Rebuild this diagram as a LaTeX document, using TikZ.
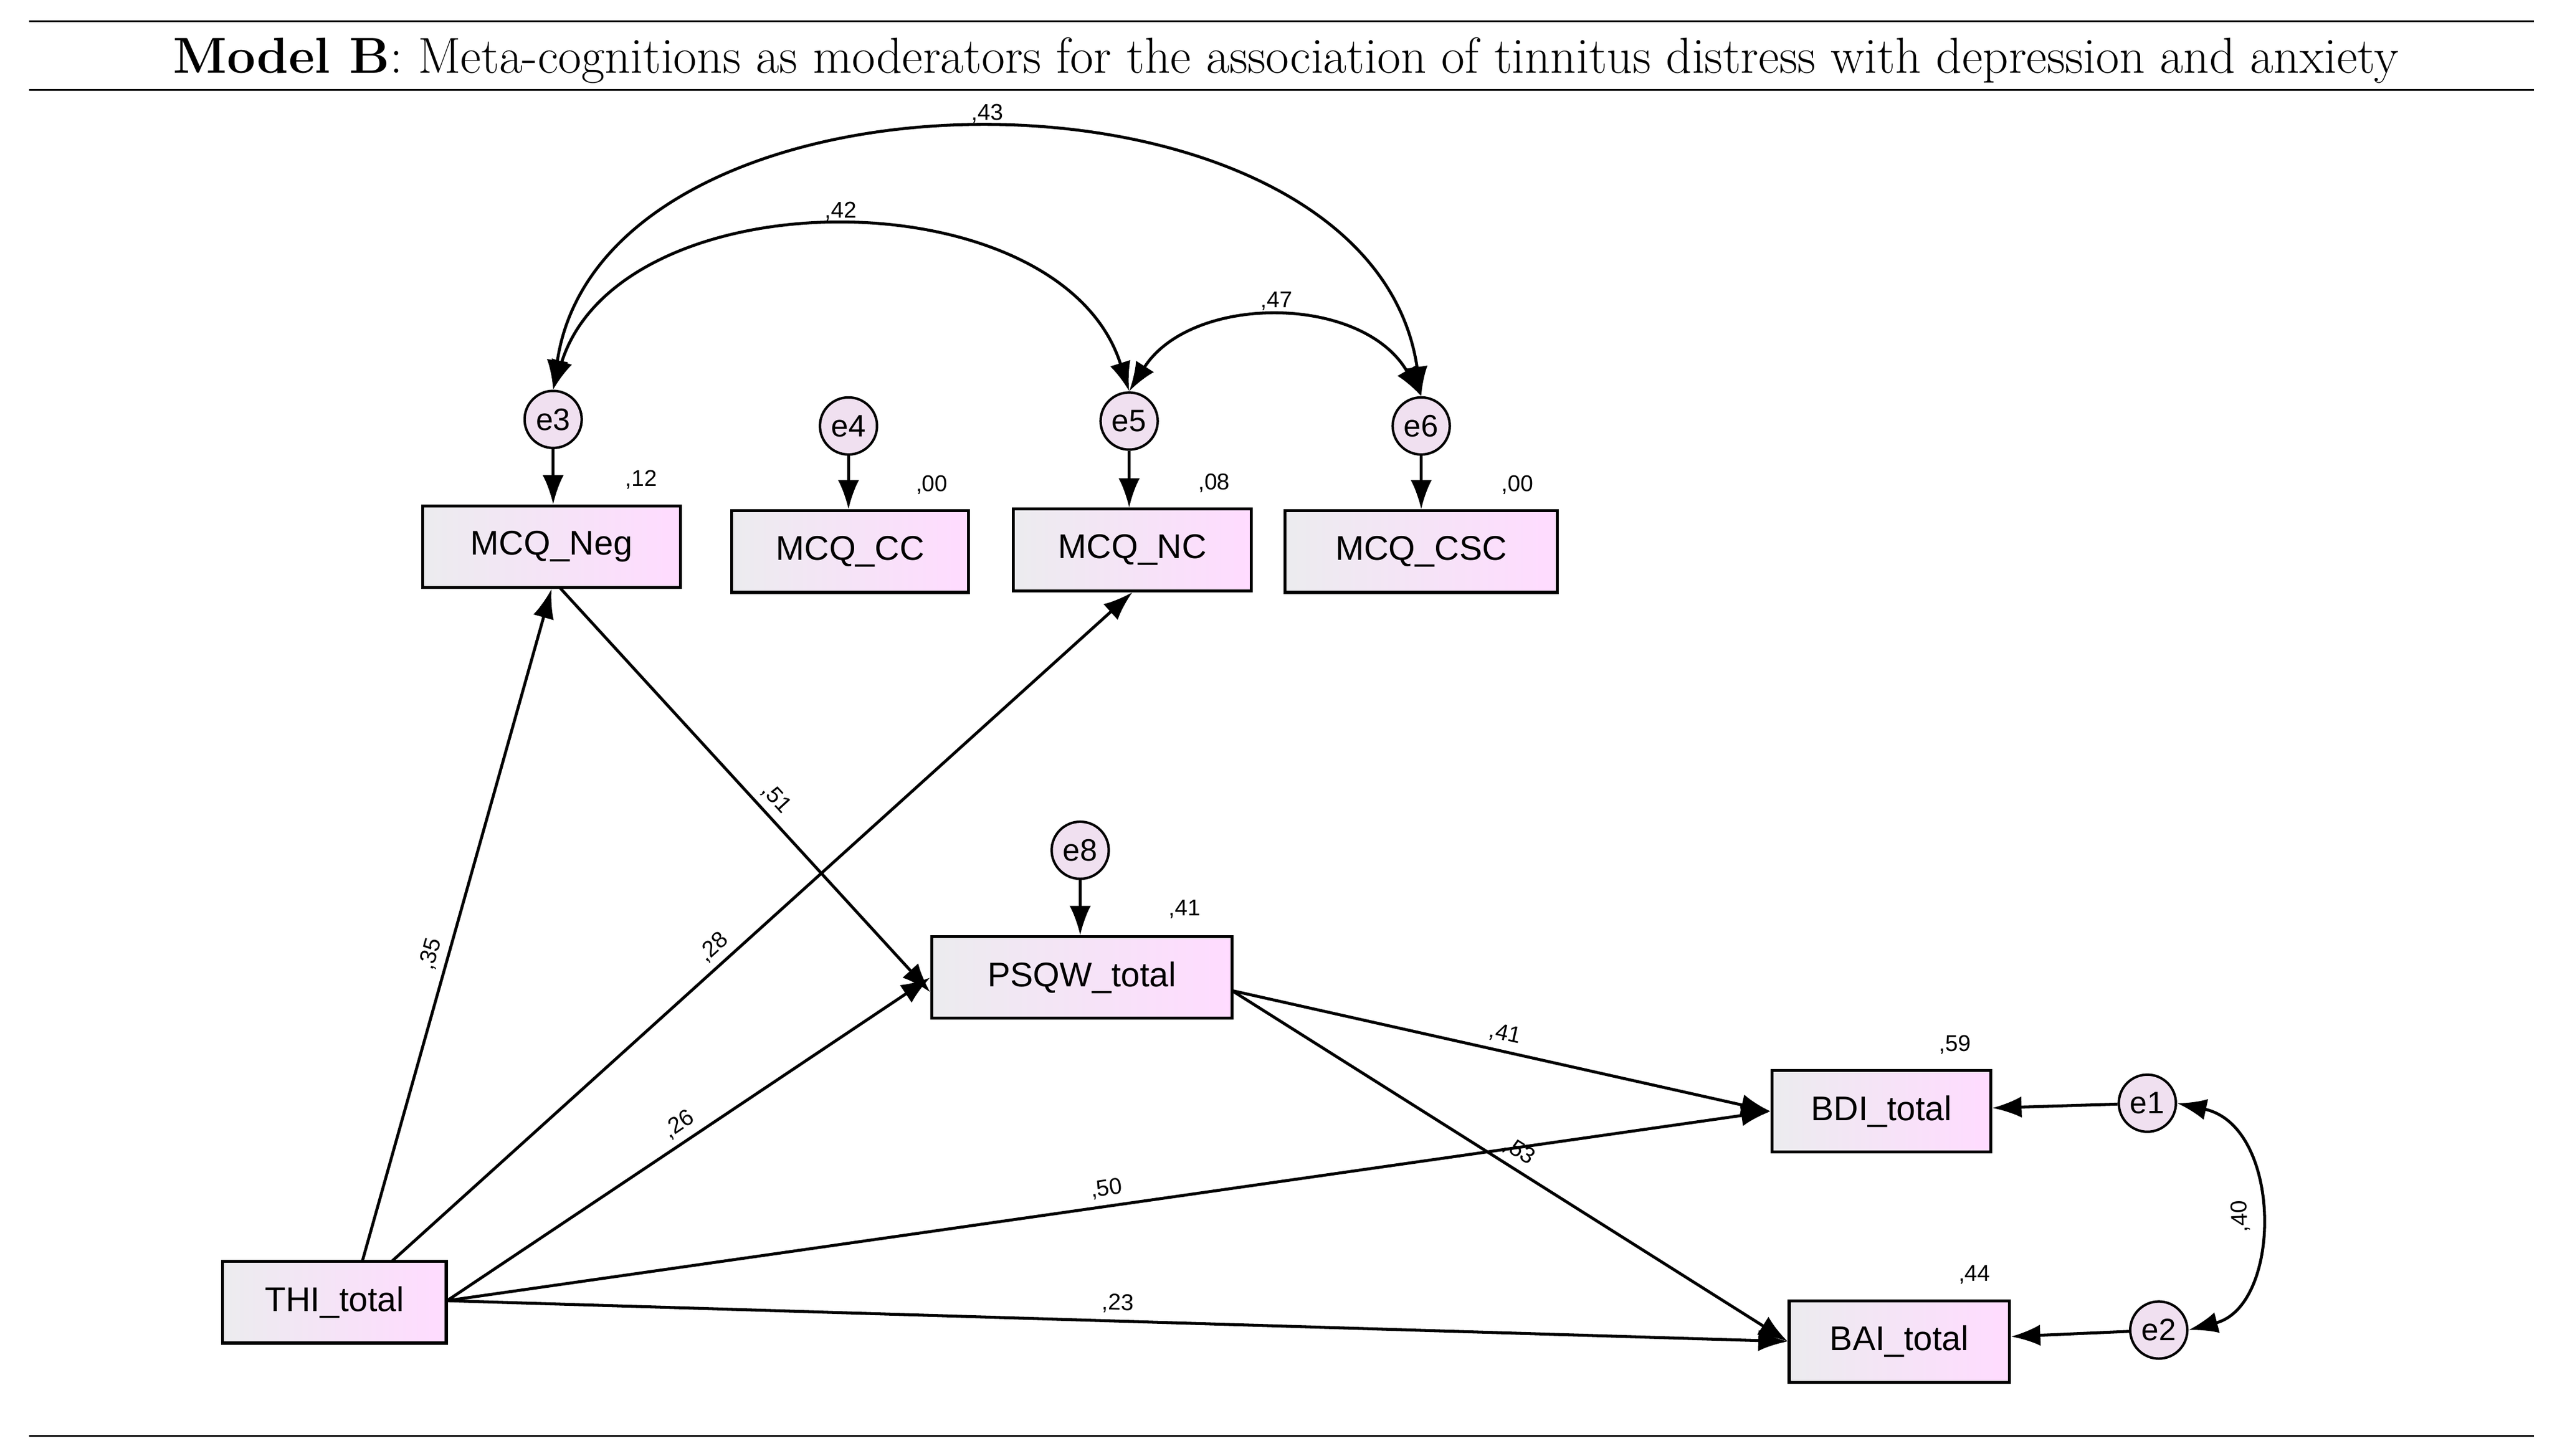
\documentclass[tikz,border=0pt]{standalone}
\usepackage{fontspec}
\setmainfont{Liberation Sans}
\newfontfamily\titlefont{Latin Modern Roman}
\usetikzlibrary{arrows.meta}
\begin{document}
\begin{tikzpicture}[x=1pt,y=-1pt,
 box/.style={draw,line width=1.8pt,left color=blue!8!gray!14,right color=magenta!14!white,minimum height=50pt,inner sep=0pt,font=\fontsize{21}{21}\selectfont},
 err/.style={circle,draw,line width=1.5pt,fill=violet!12,minimum size=35pt,inner sep=0pt,font=\fontsize{19}{19}\selectfont},
 lab/.style={font=\fontsize{14}{14}\selectfont,inner sep=4pt},
 arr/.style={line width=1.8pt,-{Latex[length=18pt,width=13pt]}},
 darr/.style={line width=1.8pt,{Latex[length=18pt,width=13pt]}-{Latex[length=18pt,width=13pt]}}]
\useasboundingbox[fill=white] (0,0) rectangle (1564,892);
\draw[line width=1pt] (18,13) -- (1553,13) (18,55) -- (1553,55) (18,880) -- (1553,880);
\node[font=\titlefont\fontsize{31}{31}\selectfont] (title) at (788,37) {\textbf{Model B}: Meta-cognitions as moderators for the association of tinnitus distress with depression and anxiety};
% boxes
\node[box,minimum width=158pt] (neg) at (338,335) {MCQ\_Neg};
\node[box,minimum width=145pt] (cc) at (521,338) {MCQ\_CC};
\node[box,minimum width=146pt] (nc) at (694,337) {MCQ\_NC};
\node[box,minimum width=167pt] (csc) at (871,338) {MCQ\_CSC};
\node[box,minimum width=184pt] (psqw) at (663,599) {PSQW\_total};
\node[box,minimum width=134pt] (bdi) at (1153,681) {BDI\_total};
\node[box,minimum width=135pt] (bai) at (1164,822) {BAI\_total};
\node[box,minimum width=137pt] (thi) at (205,798) {THI\_total};
% errors
\node[err] (e3) at (339,257) {e3};
\node[err] (e4) at (520,261) {e4};
\node[err] (e5) at (692,258) {e5};
\node[err] (e6) at (871,261) {e6};
\node[err] (e8) at (662,521) {e8};
\node[err] (e1) at (1316,676) {e1};
\node[err] (e2) at (1323,815) {e2};
% R2 labels
\node[lab] (r1) at (393,294) {,12};
\node[lab] (r2) at (571,297) {,00};
\node[lab] (r3) at (744,296) {,08};
\node[lab] (r4) at (930,297) {,00};
\node[lab] (r5) at (726,557) {,41};
\node[lab] (r6) at (1198,640) {,59};
\node[lab] (r7) at (1210,781) {,44};
% error arrows
\foreach \e/\b in {e3/neg,e4/cc,e5/nc,e6/csc,e8/psqw}{\draw[arr] (\e) -- (\b.north -| \e);}
\draw[arr] (e1) -- (bdi);
\draw[arr] (e2) -- (bai);
% paths
\coordinate (t1) at (222,773);
\coordinate (t2) at (240,773);
\coordinate (t3) at (274,797);
\draw[arr] (t1) -- node[lab,sloped,above,pos=0.45]{,35} (neg.south);
\draw[arr] (t2) -- node[lab,sloped,above,pos=0.45]{,28} (nc.south);
\draw[arr] (t3) -- node[lab,sloped,above,pos=0.5]{,26} (psqw.west);
\draw[arr] (t3) -- node[lab,sloped,above,pos=0.5]{,50} (bdi.west);
\draw[arr] (t3) -- node[lab,sloped,above,pos=0.5]{,23} (bai.west);
\coordinate (n1) at (343,360);
\draw[arr] (n1) -- node[lab,sloped,above,pos=0.55]{,51} ([yshift=-9pt]psqw.west);
\coordinate (p1) at (755,607);
\draw[arr] (p1) -- node[lab,sloped,above,pos=0.5]{,41} (bdi.west);
\draw[arr] (p1) -- node[lab,sloped,above,pos=0.5]{,53} (bai.west);
% covariances
\draw[darr] (e3.north) .. controls (370,27) and (840,27) .. node[lab,above,pos=0.5]{,43} (e6.north);
\draw[darr] (e3.north) .. controls (380,107) and (650,107) .. node[lab,above,pos=0.5]{,42} (e5.north);
\draw[darr] (e5.north) .. controls (730,180) and (835,180) .. node[lab,above,pos=0.5]{,47} (e6.north);
\draw[darr] (e1.east) .. controls (1399,690) and (1399,800) .. node[lab,sloped,above,pos=0.5,rotate=180]{,40} (e2.east);
\end{tikzpicture}
\end{document}
